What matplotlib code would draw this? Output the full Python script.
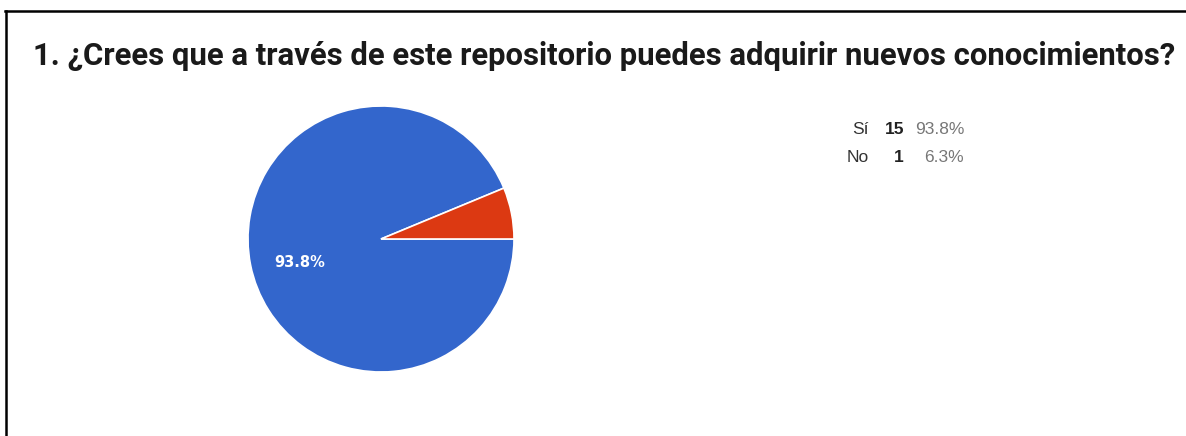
import matplotlib
matplotlib.use("Agg")
import matplotlib.pyplot as plt
from matplotlib.lines import Line2D

title = "1. ¿Crees que a través de este repositorio puedes adquirir nuevos conocimientos?"
categories = ["Sí", "No"]
counts = [15, 1]
pct_labels = ["93.8%", "6.3%"]
colors = ["#3366CC", "#DC3912"]

W, H = 1186, 436
fig = plt.figure(figsize=(W / 100, H / 100), dpi=100)
fig.patch.set_facecolor("white")

def fx(px):
    return px / W

def fy(py):
    return 1 - py / H

# border (top and left)
fig.add_artist(Line2D([fx(5), fx(W)], [fy(11), fy(11)], color="black", lw=1.8, transform=fig.transFigure))
fig.add_artist(Line2D([fx(5.5), fx(5.5)], [fy(11), fy(H)], color="black", lw=1.8, transform=fig.transFigure))

# title, scaled to the measured width
t = fig.text(fx(33), fy(56), title, ha="left", va="center", fontsize=18,
             fontweight="bold", family="Roboto", color="#1a1a1a")
fig.canvas.draw()
bb = t.get_window_extent(renderer=fig.canvas.get_renderer())
t.set_fontsize(18 * (1147 / bb.width))

# pie
cx, cy, r = 381, 239, 133
ax = fig.add_axes([fx(cx - r), fy(cy + r), 2 * r / W, 2 * r / H])

def autopct(p):
    return f"{p:.1f}%" if p > 10 else ""

wedges, texts, autotexts = ax.pie(
    counts, colors=colors, startangle=0, counterclock=False, radius=1,
    autopct=autopct, pctdistance=0.62,
    wedgeprops=dict(edgecolor="white", linewidth=1.2),
    textprops=dict(color="white", fontsize=10.5, fontweight="bold", family="DejaVu Sans"))
for at in autotexts:
    at.set_va("top")
ax.set_xlim(-1, 1)
ax.set_ylim(-1, 1)
ax.set_aspect("equal")
ax.axis("off")

# legend table
row_y = [130, 158]
for i, (cat, n, pl) in enumerate(zip(categories, counts, pct_labels)):
    y = fy(row_y[i])
    fig.text(fx(869), y, cat, ha="right", va="center", fontsize=12.5,
             family="Liberation Sans", color="#333333")
    fig.text(fx(904), y, str(n), ha="right", va="center", fontsize=12.5,
             family="Liberation Sans", fontweight="bold", color="#222222")
    fig.text(fx(964), y, pl, ha="right", va="center", fontsize=12.5,
             family="Liberation Sans", color="#777777")

fig.savefig("out.png", dpi=100, facecolor="white")
